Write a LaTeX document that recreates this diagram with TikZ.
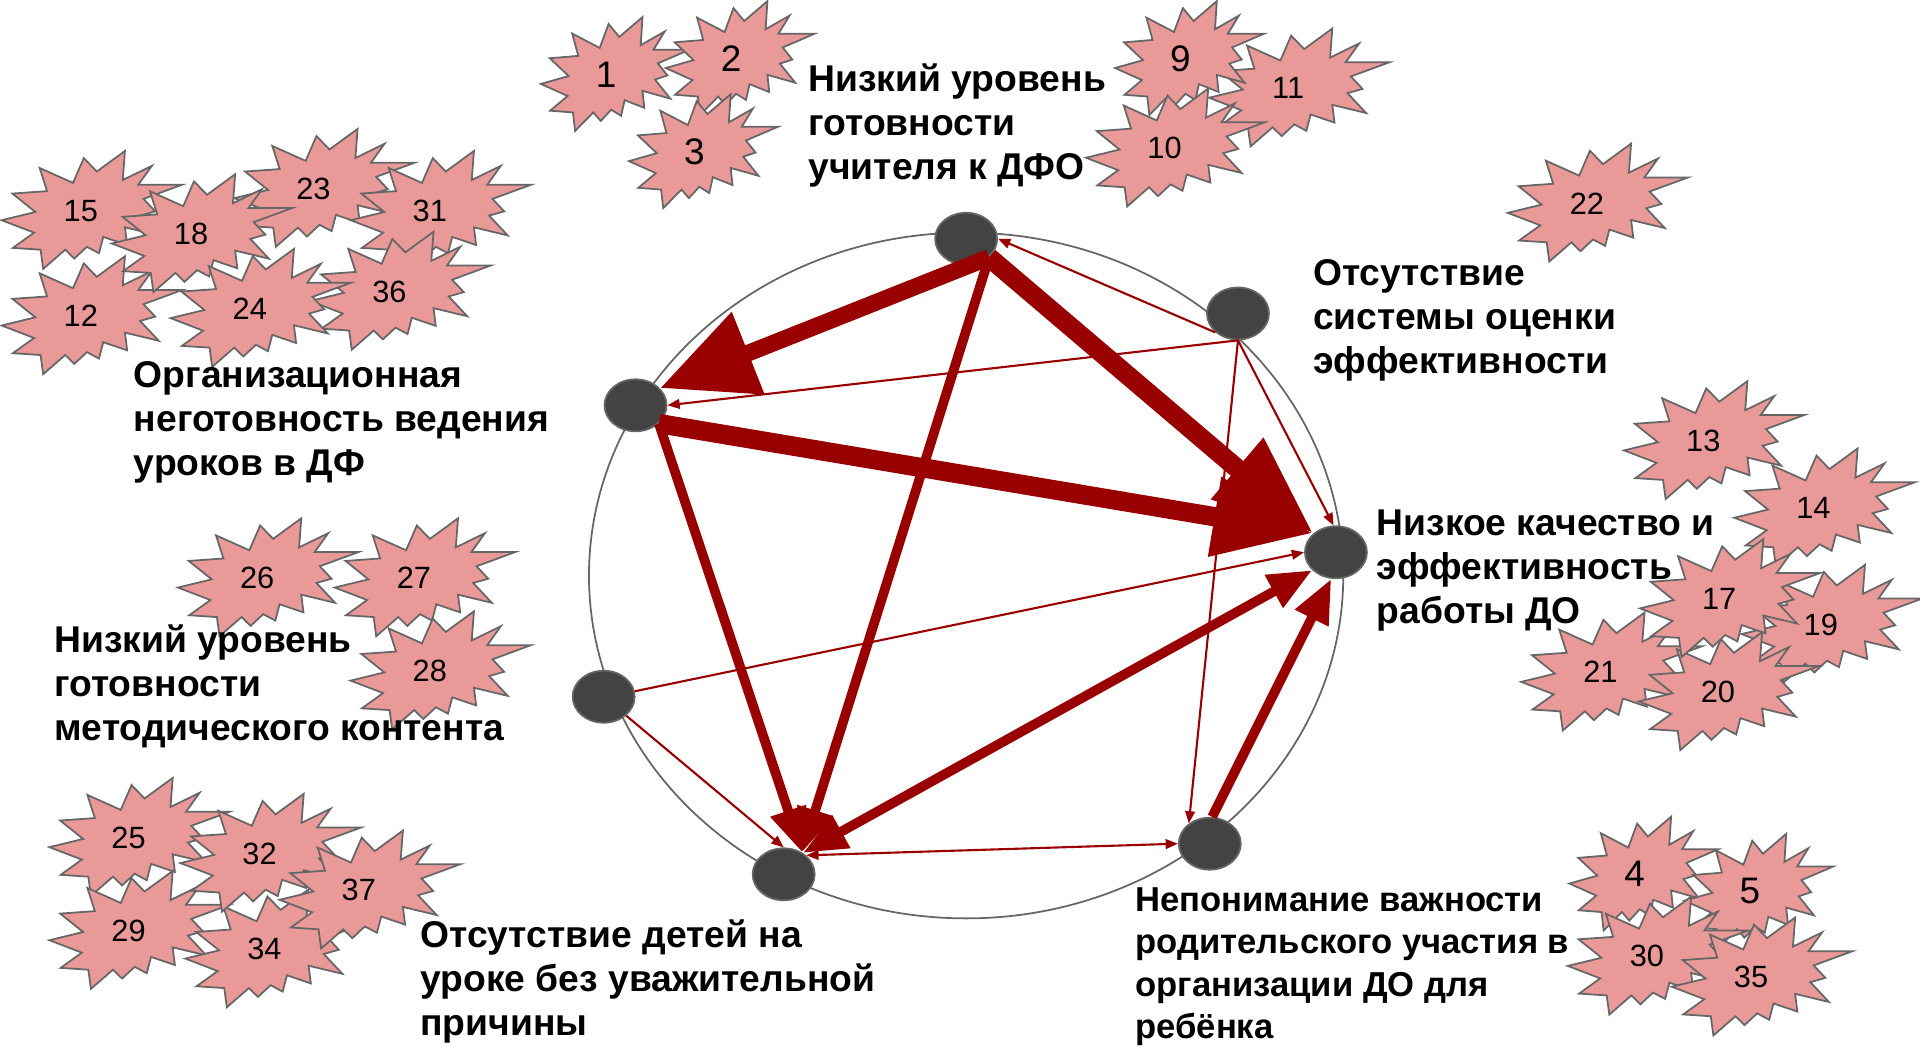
\documentclass[tikz,border=0pt]{standalone}
\usepackage{fontspec}
\setmainfont{Liberation Sans}
\usetikzlibrary{arrows.meta}
\usetikzlibrary{shapes.geometric}
\definecolor{linkred}{HTML}{990000}
\definecolor{burstpink}{HTML}{EA9999}
\definecolor{edgegray}{HTML}{666666}
\definecolor{dotgray}{HTML}{434343}
\tikzset{
  dot/.style={ellipse,draw=edgegray,line width=1pt,fill=dotgray,minimum width=1.24cm,minimum height=1.04cm,inner sep=0pt},
  burstline/.style={draw=edgegray,line width=1pt,fill=burstpink,line join=miter},
  title/.style={anchor=north west,align=left,inner sep=0pt,font=\fontsize{21.2}{25}\selectfont\bfseries},
  thin link/.style={linkred,line width=1.2pt,-{Triangle[length=7pt,width=5.5pt]}},
  mid link/.style={linkred,line width=5.5pt,-{Triangle[length=25pt,width=20pt]}},
  wide link/.style={linkred,line width=9.5pt,-{Triangle[length=54pt,width=48pt]}},
  huge link/.style={linkred,line width=11pt,-{Triangle[length=57pt,width=43pt]}},
}
\newcommand{\burst}[4][1.06]{%
  \ifnum#2<10 \def\burstsy{.84}\else\def\burstsy{.87}\fi
  \draw[burstline,shift={(#3,#4)},xscale=#1,yscale=\burstsy] (34,-56) -- (32.3,-28.7) -- (54.7,-42) -- (44.3,-24.3) -- (78,-24.3) -- (48.3,-11) -- (57.3,.7) -- (45.7,4.7) -- (60,23.3) -- (34,15.7) -- (35.7,32.3) -- (17.3,24.7) -- (14,40) -- (4.7,34) -- (-5,45) -- (-12,36.7) -- (-29,54.7) -- (-31,36.7) -- (-52.3,35) -- (-36,20.7) -- (-61,9) -- (-35,1.3) -- (-52.7,-16) -- (-26,-18.3) -- (-31.7,-40) -- (-6,-26) -- (2.3,-49.3) -- (12.3,-36.7) -- cycle;
  \node[font=\ifnum#2<10 \fontsize{21}{24}\selectfont\else\fontsize{17.5}{20}\selectfont\fi] (b#2) at (#3,#4) {#2};
}
\begin{document}
\begin{tikzpicture}[x=0.02449cm,y=-0.02449cm]
  \useasboundingbox (0,0) rectangle (1568,854);
  \burst[.874]{1}{495}{61}
  \burst[.874]{2}{597}{48}
  \burst[.874]{3}{567}{124}
  \burst{11}{1052}{72}
  \burst[.874]{9}{964}{48}
  \burst[1.05]{10}{951}{121}
  \burst{22}{1296}{166}
  \burst{12}{66}{258}
  \burst{23}{256}{154}
  \burst{31}{351}{172}
  \burst{36}{318}{238}
  \burst{15}{66}{172}
  \burst{18}{156}{191}
  \burst{24}{204}{252}
  \burst{13}{1391}{360}
  \burst{14}{1481}{415}
  \burst{19}{1487}{510}
  \burst{21}{1307}{549}
  \burst{20}{1403}{565}
  \burst{17}{1404}{489}
  \burst[.874]{4}{1335}{714}
  \burst[.874]{5}{1429}{728}
  \burst{30}{1345}{781}
  \burst{35}{1430}{798}
  \burst{26}{210}{472}
  \burst{27}{338}{472}
  \burst{28}{351}{548}
  \burst{25}{105}{684}
  \burst{29}{105}{760}
  \burst{34}{216}{775}
  \burst{32}{212}{697}
  \burst{37}{293}{727}
  \draw[edgegray,line width=1pt] (789,470) ellipse [x radius=308,y radius=280];
  \node[dot] (teach) at (789,195) {};
  \node[dot] (noeval) at (1011,256) {};
  \node[dot] (quality) at (1091,451) {};
  \node[dot] (parent) at (988,689) {};
  \node[dot] (absent) at (640,714) {};
  \node[dot] (content) at (493,569) {};
  \node[dot] (org) at (519,331) {};
  \draw[thin link] (noeval.-90) -- (quality.95);
  \draw[thin link] (noeval.-140) -- (teach.0);
  \draw[thin link] (noeval.-90) -- (org.0);
  \draw[thin link] (noeval.-90) -- (parent.136);
  \draw[thin link] (content.10) -- (quality.180);
  \draw[thin link] (content.-40) -- (absent.90);
  \draw[thin link,{Triangle[length=7pt,width=5.5pt]}-{Triangle[length=7pt,width=5.5pt]}] (absent.40) -- (parent.180);
  \draw[mid link] (teach.-39) -- (absent.50);
  \draw[mid link] (org.-38) -- (absent.50);
  \draw[mid link,{Triangle[length=25pt,width=20pt]}-{Triangle[length=25pt,width=20pt]}] (absent.48) -- (quality.-143);
  \draw[mid link] (parent.85) -- (quality.-100);
  \draw[wide link] (teach.-39) -- (org.35);
  \draw[huge link] (teach.-39) -- (quality.140);
  \draw[huge link] (org.-38) -- (quality.140);
  \node[title] (lteach) at (660,52) {Низкий уровень\\готовности\\учителя к ДФО};
  \node[title] (lnoeval) at (1072,212) {Отсутствие\\системы оценки\\эффективности};
  \node[title] (lquality) at (1124,416) {Низкое качество и\\эффективность\\работы ДО};
  \node[title,font=\fontsize{19.7}{24.2}\selectfont\bfseries] (lparent) at (927,724.5) {Непонимание важности\\родительского участия в\\организации ДО для\\ребёнка};
  \node[title] (labsent) at (343,751) {Отсутствие детей на\\уроке без уважительной\\причины};
  \node[title] (lcontent) at (44,510) {Низкий уровень\\готовности\\методического контента};
  \node[title] (lorg) at (109,295) {Организационная\\неготовность ведения\\уроков в ДФ};
\end{tikzpicture}
\end{document}
